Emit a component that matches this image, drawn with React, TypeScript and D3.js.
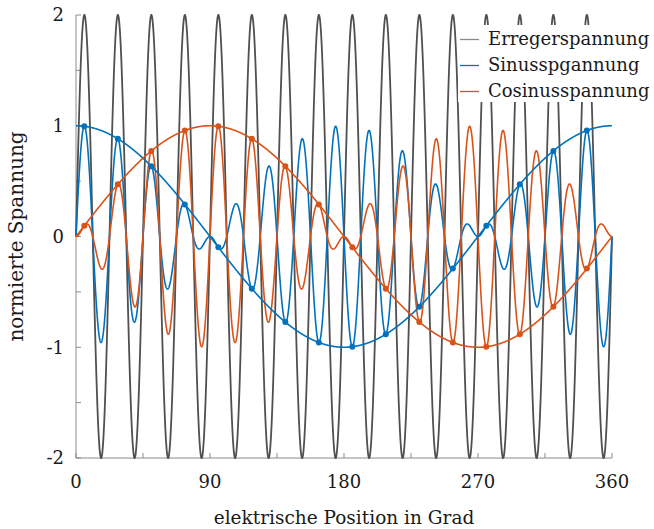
import React from "react";
import * as d3 from "d3";

// ---- data ----
const xTicks = [0, 45, 90, 135, 180, 225, 270, 315, 360];
const xTickLabels = ["0", "", "90", "", "180", "", "270", "", "360"];
const yTicks = [-2, -1.5, -1, -0.5, 0, 0.5, 1, 1.5, 2];
const yTickLabels = ["-2", "", "-1", "", "0", "", "1", "", "2"];

// excitation: amplitude 2, 16 periods per electrical revolution
const carrierAmplitude = 2;
const carrierCycles = 16;
// envelope amplitude (normalised)
const envelopeAmplitude = 1;

// sample points (positive peaks of excitation) and envelope values there
const sampleAngles = [5.6, 28.1, 50.6, 73.1, 95.6, 118.1, 140.6, 163.1, 185.6, 208.1, 230.6, 253.1, 275.6, 298.1, 320.6, 343.1];
const sinSamples = [0.995, 0.882, 0.634, 0.29, -0.098, -0.471, -0.773, -0.957, -0.995, -0.882, -0.634, -0.29, 0.098, 0.471, 0.773, 0.957];
const cosSamples = [0.098, 0.471, 0.773, 0.957, 0.995, 0.882, 0.634, 0.29, -0.098, -0.471, -0.773, -0.957, -0.995, -0.882, -0.634, -0.29];

const legendLabels = ["Erregerspannung", "Sinusspgannung", "Cosinusspannung"];

const GRAY = "#505050";
const BLUE = "#0072BD";
const ORANGE = "#D95319";
const FONT = "'DejaVu Serif', serif";

const W = 654;
const H = 529;
const x = d3.scaleLinear().domain([0, 360]).range([76, 612]);
const y = d3.scaleLinear().domain([-2, 2]).range([458, 15]);

const rad = (d: number) => (d * Math.PI) / 180;
const carrier = (d: number) => carrierAmplitude * Math.sin(carrierCycles * rad(d));
const envSin = (d: number) => envelopeAmplitude * Math.cos(rad(d));
const envCos = (d: number) => envelopeAmplitude * Math.sin(rad(d));

const grid = d3.range(0, 360.0001, 0.05);

export default function App() {
  const line = d3
    .line<[number, number]>()
    .x((p) => x(p[0]))
    .y((p) => y(p[1]));

  const carrierPath = line(grid.map((d) => [d, carrier(d)]));
  const sinModPath = line(grid.map((d) => [d, (envSin(d) * carrier(d)) / carrierAmplitude]));
  const cosModPath = line(grid.map((d) => [d, (envCos(d) * carrier(d)) / carrierAmplitude]));
  const sinEnvPath = line(grid.map((d) => [d, envSin(d)]));
  const cosEnvPath = line(grid.map((d) => [d, envCos(d)]));

  const axisColor = "#8c8c8c";
  const legendColors = ["#8a8a8a", BLUE, ORANGE];

  return (
    <svg
      width={W}
      height={H}
      style={{ position: "absolute", left: 0, top: 0, background: "#fff" }}
      fontFamily={FONT}
    >
      <rect x={0} y={0} width={W} height={H} fill="#fff" />
      {/* axes */}
      <line x1={x(0)} x2={x(0)} y1={y(2)} y2={y(-2)} stroke={axisColor} strokeWidth={1} />
      <line x1={x(0)} x2={x(360)} y1={y(-2)} y2={y(-2)} stroke={axisColor} strokeWidth={1} />
      {yTicks.map((t) => (
        <line key={"yt" + t} x1={x(0)} x2={x(0) + 5} y1={y(t)} y2={y(t)} stroke={axisColor} strokeWidth={1} />
      ))}
      {xTicks.map((t) => (
        <line key={"xt" + t} x1={x(t)} x2={x(t)} y1={y(-2)} y2={y(-2) - 5} stroke={axisColor} strokeWidth={1} />
      ))}

      {/* curves */}
      <path d={carrierPath || ""} fill="none" stroke={GRAY} strokeWidth={1.8} />
      <path d={sinModPath || ""} fill="none" stroke={BLUE} strokeWidth={1.6} />
      <path d={cosModPath || ""} fill="none" stroke={ORANGE} strokeWidth={1.6} />
      <path d={sinEnvPath || ""} fill="none" stroke={BLUE} strokeWidth={1.6} />
      <path d={cosEnvPath || ""} fill="none" stroke={ORANGE} strokeWidth={1.6} />
      {sampleAngles.map((a, i) => (
        <circle key={"sd" + i} cx={x(a)} cy={y(sinSamples[i])} r={3} fill={BLUE} />
      ))}
      {sampleAngles.map((a, i) => (
        <circle key={"cd" + i} cx={x(a)} cy={y(cosSamples[i])} r={3} fill={ORANGE} />
      ))}

      {/* tick labels */}
      {yTicks.map((t, i) =>
        yTickLabels[i] ? (
          <text key={"yl" + t} x={64} y={y(t)} dy="0.36em" textAnchor="end" fontSize={18} fill="#1a1a1a">
            {yTickLabels[i]}
          </text>
        ) : null
      )}
      {xTicks.map((t, i) =>
        xTickLabels[i] ? (
          <text key={"xl" + t} x={x(t)} y={488} textAnchor="middle" fontSize={18} fill="#1a1a1a">
            {xTickLabels[i]}
          </text>
        ) : null
      )}

      {/* axis titles */}
      <text x={x(180)} y={524} textAnchor="middle" fontSize={18.5} fill="#1a1a1a">
        elektrische Position in Grad
      </text>
      <text
        transform={`translate(23, ${y(0)}) rotate(-90)`}
        textAnchor="middle"
        fontSize={20}
        fill="#1a1a1a"
      >
        normierte Spannung
      </text>

      {/* legend */}
      <rect x={458} y={25} width={196} height={77} fill="#fff" />
      {legendLabels.map((l, i) => (
        <g key={l} transform={`translate(0, ${39.5 + i * 26})`}>
          <line x1={460} x2={479} y1={0} y2={0} stroke={legendColors[i]} strokeWidth={1.3} />
          <text x={488} y={0} dy="0.33em" fontSize={18} fill="#1a1a1a">
            {l}
          </text>
        </g>
      ))}
    </svg>
  );
}
